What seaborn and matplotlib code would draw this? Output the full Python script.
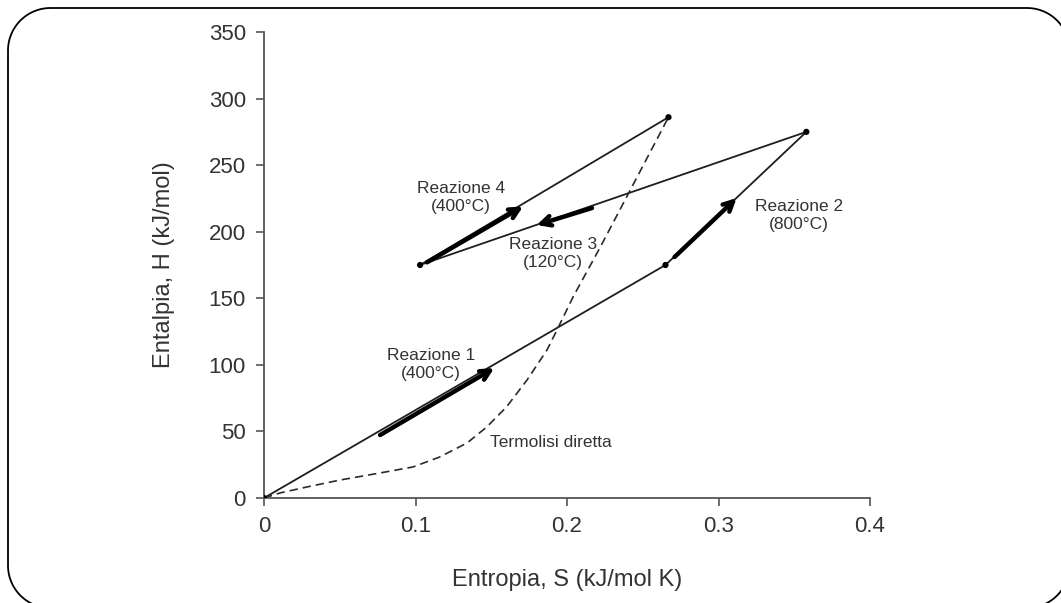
import matplotlib
matplotlib.use("Agg")
import matplotlib.pyplot as plt
import matplotlib.transforms as mtransforms
from matplotlib.lines import Line2D
import numpy as np
import pandas as pd
import seaborn as sns

# Thermochemical cycle: states visited in order (S in kJ/mol K, H in kJ/mol)
cycle_S = [0.0, 0.265, 0.358, 0.103, 0.267]
cycle_H = [0.0, 175.0, 275.0, 175.0, 286.0]

# Direct thermolysis path
thermo_S = [0.0, 0.0106, 0.0284, 0.0502, 0.0766, 0.0983, 0.116, 0.134,
            0.147, 0.160, 0.1736, 0.1868, 0.1934, 0.204, 0.222, 0.267]
thermo_H = [0.0, 3.8, 8.3, 13.5, 18.8, 23.3, 30.8, 41.3,
            53.3, 68.3, 88.6, 111.2, 126.2, 151.0, 188.5, 286.0]

# Reaction arrows: (S start, H start, S end, H end)
arrow_S0 = [0.0766, 0.271, 0.2165, 0.1076]
arrow_H0 = [47.3, 181.0, 217.8, 177.0]
arrow_S1 = [0.152, 0.312, 0.180, 0.171]
arrow_H1 = [97.6, 225.3, 205.0, 219.0]

reaction_labels = ["Reazione 1\n(400°C)", "Reazione 2\n(800°C)",
                   "Reazione 3\n(120°C)", "Reazione 4\n(400°C)"]
label_S = [0.110, 0.353, 0.1905, 0.130]
label_H = [100.0, 212.0, 184.0, 226.0]

x_ticks = [0, 0.1, 0.2, 0.3, 0.4]
x_tick_labels = ["0", "0.1", "0.2", "0.3", "0.4"]
y_ticks = [0, 50, 100, 150, 200, 250, 300, 350]

sns.set_style("white")
plt.rcParams["font.family"] = ["Liberation Sans", "DejaVu Sans"]

W, H, DPI = 1061, 603, 100
fig = plt.figure(figsize=(W / DPI, H / DPI), dpi=DPI)
ax = fig.add_axes([264 / W, 105 / H, (870 - 264) / W, (498 - 32) / H])

cycle = pd.DataFrame({"S": cycle_S, "H": cycle_H})
thermo = pd.DataFrame({"S": thermo_S, "H": thermo_H})

line_col = "#1e1e1e"
sns.lineplot(data=cycle, x="S", y="H", sort=False, estimator=None,
             color=line_col, lw=1.3, ax=ax)
sns.lineplot(data=thermo, x="S", y="H", sort=False, estimator=None,
             color="#2a2a2a", lw=1.2, dashes=False, ax=ax,
             linestyle=(0, (5, 3)))
sns.scatterplot(data=cycle, x="S", y="H", color="black", s=20,
                edgecolor="none", ax=ax, zorder=5)

for s0, h0, s1, h1 in zip(arrow_S0, arrow_H0, arrow_S1, arrow_H1):
    ax.annotate("", xy=(s1, h1), xytext=(s0, h0),
                arrowprops=dict(arrowstyle="->,head_length=0.7,head_width=0.35",
                                lw=3.2, color="black", shrinkA=0, shrinkB=0))

text_col = "#333333"
for txt, s, h in zip(reaction_labels, label_S, label_H):
    ax.text(s, h, txt, ha="center", va="center", fontsize=12.5,
            color=text_col, linespacing=1.25)
ax.text(0.149, 42, "Termolisi diretta", ha="left", va="center",
        fontsize=12.5, color=text_col)

ax.set_xlim(0, 0.4)
ax.set_ylim(0, 350)
ax.set_xticks(x_ticks)
ax.set_xticklabels(x_tick_labels)
ax.set_yticks(y_ticks)
ax.tick_params(axis="both", direction="out", length=6, width=1.2,
               color="#555555", labelsize=16, labelcolor="#333333", pad=7,
               bottom=True, left=True)
for side in ("top", "right"):
    ax.spines[side].set_visible(False)
for side in ("left", "bottom"):
    ax.spines[side].set_color("#555555")
    ax.spines[side].set_linewidth(1.3)

ax.set_xlabel("Entropia, S (kJ/mol K)", fontsize=17, color="#333333", labelpad=23)
ax.set_ylabel("Entalpia, H (kJ/mol)", fontsize=17, color="#333333", labelpad=24)

# Rounded frame around the whole figure, built in pixel units
fx0, fx1, fy0, fy1, rad = 8.0, 1069.5, -5.0, 595.0, 42.5
t = np.linspace(0, np.pi / 2, 30)
corners = [
    (fx1 - rad, fy1 - rad, t),                 # top-right
    (fx0 + rad, fy1 - rad, t + np.pi / 2),     # top-left
    (fx0 + rad, fy0 + rad, t + np.pi),         # bottom-left
    (fx1 - rad, fy0 + rad, t + 1.5 * np.pi),   # bottom-right
]
px, py = [], []
for cx, cy, ang in corners:
    px.extend(cx + rad * np.cos(ang))
    py.extend(cy + rad * np.sin(ang))
px.append(px[0])
py.append(py[0])
fig.add_artist(Line2D(px, py, transform=mtransforms.IdentityTransform(),
                      color="black", lw=1.3, clip_on=False))

fig.savefig("out.png", dpi=DPI)
